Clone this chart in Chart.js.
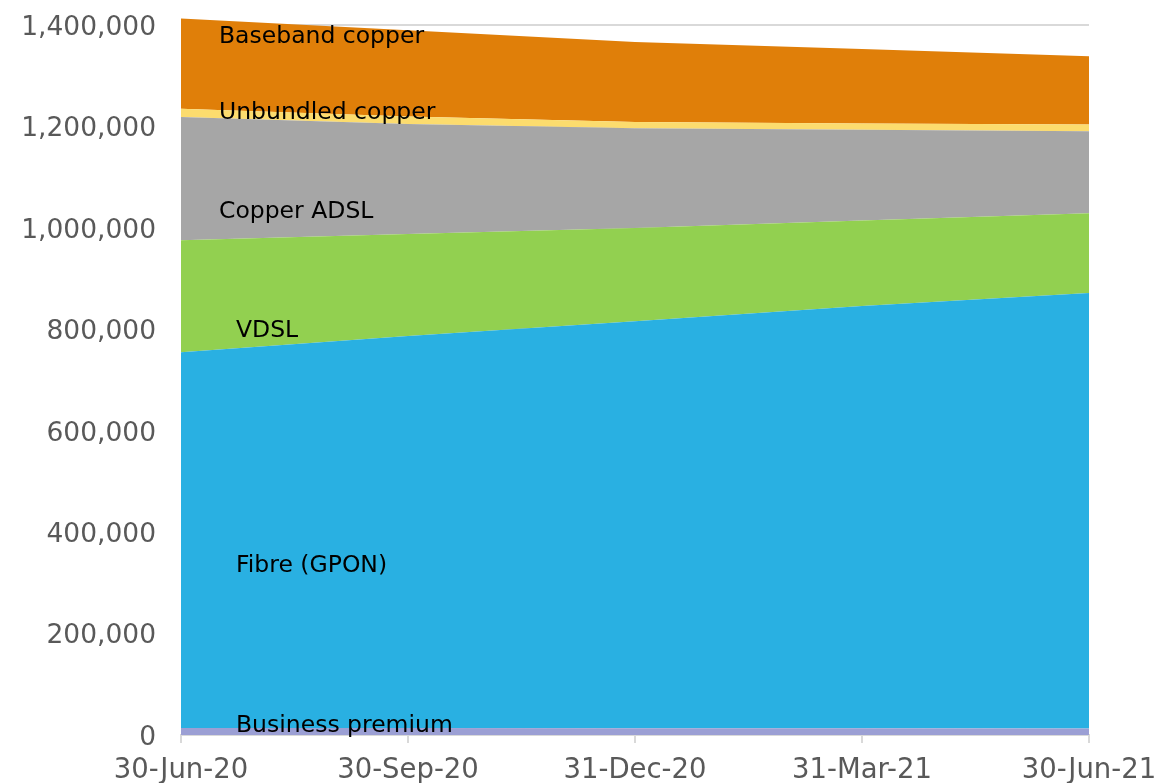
<!DOCTYPE html>
<html>
<head>
<meta charset="utf-8">
<script src="https://cdn.jsdelivr.net/npm/chart.js@4"></script>
<style>
  html, body { margin: 0; padding: 0; background: #fff; }
  #wrap { width: 1157px; height: 783px; }
</style>
</head>
<body>
<div id="wrap"><canvas id="chart"></canvas></div>
<script>
const quarters = ['30-Jun-20', '30-Sep-20', '31-Dec-20', '31-Mar-21', '30-Jun-21'];
const yTicks = [0, 200000, 400000, 600000, 800000, 1000000, 1200000, 1400000];

const businessPremium = [14000, 14000, 13500, 13500, 13000];
const fibreGpon = [741000, 773000, 802500, 832500, 859000];
const vdsl = [221000, 201000, 184000, 169000, 157000];
const copperAdsl = [243000, 217000, 197000, 179000, 162000];
const unbundledCopper = [16000, 15000, 12000, 12000, 13000];
const basebandCopper = [178000, 170000, 158000, 147000, 135000];

const seriesNames = ['Business premium', 'Fibre (GPON)', 'VDSL', 'Copper ADSL', 'Unbundled copper', 'Baseband copper'];
// where each series name sits on the value axis
const labelLevels = [18000, 333000, 797000, 1031000, 1228000, 1376000];

const colors = ['#9b9fd4', '#29b0e2', '#92d050', '#a6a6a6', '#fcdc6e', '#e07f09'];
const seriesData = [businessPremium, fibreGpon, vdsl, copperAdsl, unbundledCopper, basebandCopper];

const FONT = 'DejaVu Sans, Verdana, sans-serif';

const datasets = seriesData.map((data, i) => ({
  label: seriesNames[i],
  data,
  backgroundColor: colors[i],
  borderWidth: 0,
  pointRadius: 0,
  fill: i === 0 ? 'origin' : '-1',
  tension: 0,
}));

// series names written inside the bands, near the left edge
const bandLabels = {
  id: 'bandLabels',
  afterDatasetsDraw(chart) {
    const { ctx, scales } = chart;
    const x0 = scales.x.getPixelForValue(0);
    ctx.save();
    ctx.font = '23.5px ' + FONT;
    ctx.fillStyle = '#000';
    ctx.textBaseline = 'middle';
    seriesNames.forEach((name, i) => {
      const indent = i < 3 ? 55 : 38;
      ctx.fillText(name, x0 + indent, scales.y.getPixelForValue(labelLevels[i]));
    });
    ctx.restore();
  },
};

new Chart(document.getElementById('chart'), {
  type: 'line',
  data: { labels: quarters, datasets },
  plugins: [bandLabels],
  options: {
    responsive: true,
    maintainAspectRatio: false,
    animation: false,
    layout: { padding: { top: 10, right: 0, left: 0, bottom: 0 } },
    plugins: {
      legend: { display: false },
      tooltip: { enabled: false },
    },
    scales: {
      x: {
        offset: false,
        afterFit: s => { s.height = 48; s.paddingRight = 68; s.paddingLeft = 0; },
        grid: { drawOnChartArea: false, drawTicks: true, tickLength: 8, color: '#d9d9d9', lineWidth: 2 },
        border: { display: true, color: '#d9d9d9', width: 2 },
        ticks: { color: '#595959', font: { family: FONT, size: 27.5 }, padding: 11, maxRotation: 0, autoSkip: false },
      },
      y: {
        stacked: true,
        min: 0,
        // headroom so the first quarter's total can rise past the top gridline
        max: 1430000,
        afterFit: s => { s.width = 181; s.paddingTop = 0; s.paddingBottom = 0; },
        afterBuildTicks: s => { s.ticks = yTicks.map(value => ({ value })); },
        grid: { color: '#d9d9d9', lineWidth: 2, drawTicks: false },
        border: { display: false },
        ticks: {
          color: '#595959',
          font: { family: FONT, size: 26.5 },
          padding: 25,
          labelOffset: 3,
          callback: v => v.toLocaleString('en-US'),
        },
      },
    },
  },
});
</script>
</body>
</html>
